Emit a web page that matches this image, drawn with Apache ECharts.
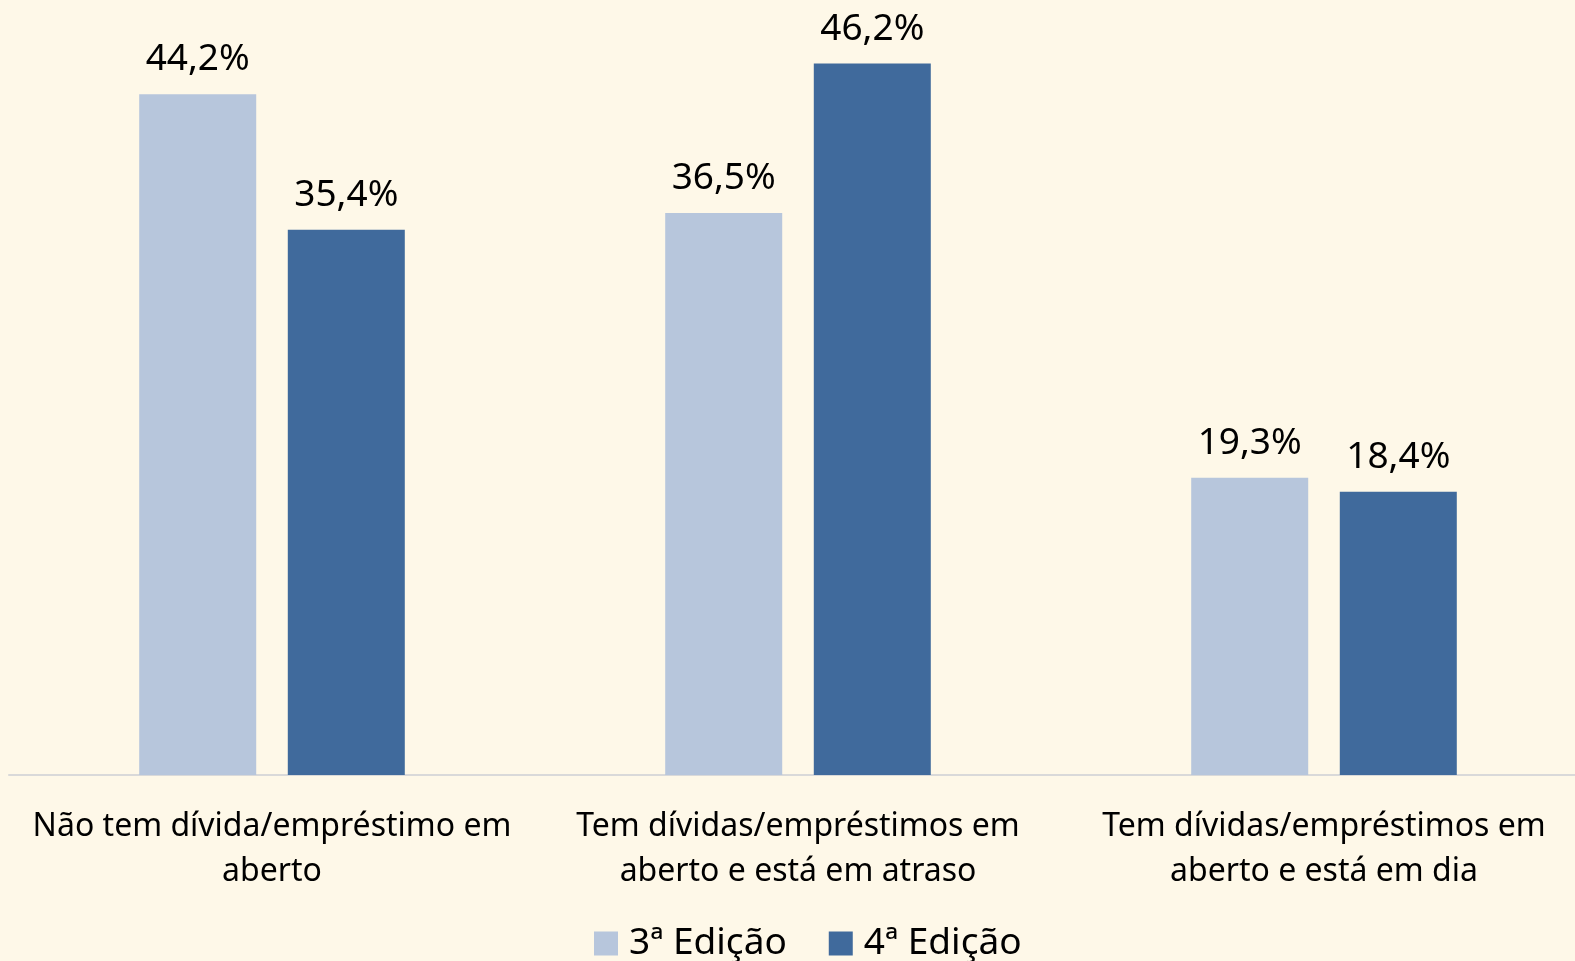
<!DOCTYPE html>
<html>
<head>
<meta charset="utf-8">
<script src="https://cdn.jsdelivr.net/npm/echarts@6/dist/echarts.min.js"></script>
<style>
  html, body { margin: 0; padding: 0; background: #FEF8E8; overflow: hidden; }
  #chart { width: 1590px; height: 961px; }
</style>
</head>
<body>
<div id="chart"></div>
<script>
const categories = [
  "Não tem dívida/empréstimo em\naberto",
  "Tem dívidas/empréstimos em\naberto e está em atraso",
  "Tem dívidas/empréstimos em\naberto e está em dia",
];
const seriesNames = ["3ª Edição", "4ª Edição"];
const edicao3 = [44.2, 36.5, 19.3];
const edicao4 = [35.4, 46.2, 18.4];

const COLORS = ["#B7C6DC", "#406A9C"];
const FONT = "'Noto Sans', 'Open Sans', sans-serif";

const chart = echarts.init(document.getElementById("chart"));

const label = {
  show: true,
  position: "top",
  distance: 16,
  color: "#000",
  fontFamily: FONT,
  fontSize: 37,
  formatter: (p) => p.value.toFixed(1).replace(".", ",") + "%",
};

chart.setOption({
  backgroundColor: "#FEF8E8",
  textStyle: { fontFamily: FONT },
  legend: {
    bottom: -1,
    left: 594,
    padding: 0,
    itemWidth: 24,
    itemHeight: 24,
    itemGap: 42,
    icon: "rect",
    textStyle: { fontSize: 37, color: "#000", fontFamily: FONT, padding: [0, 0, 0, 6] },
    data: seriesNames,
  },
  grid: {
    left: 9,
    right: 3,
    top: 5,
    bottom: 961 - 775,
    containLabel: false,
  },
  xAxis: {
    type: "category",
    data: categories,
    axisLine: { lineStyle: { color: "#D9D9D9", width: 2 } },
    axisTick: { show: false },
    axisLabel: {
      color: "#000",
      fontSize: 32,
      lineHeight: 45,
      margin: 29,
      fontFamily: FONT,
      interval: 0,
    },
  },
  yAxis: {
    type: "value",
    min: 0,
    max: 50,
    show: false,
    splitLine: { show: false },
  },
  series: [
    {
      name: seriesNames[0],
      type: "bar",
      data: edicao3,
      barWidth: 117,
      barGap: "27%",
      itemStyle: { color: COLORS[0] },
      label,
    },
    {
      name: seriesNames[1],
      type: "bar",
      data: edicao4,
      barWidth: 117,
      itemStyle: { color: COLORS[1] },
      label,
    },
  ],
});
</script>
</body>
</html>
